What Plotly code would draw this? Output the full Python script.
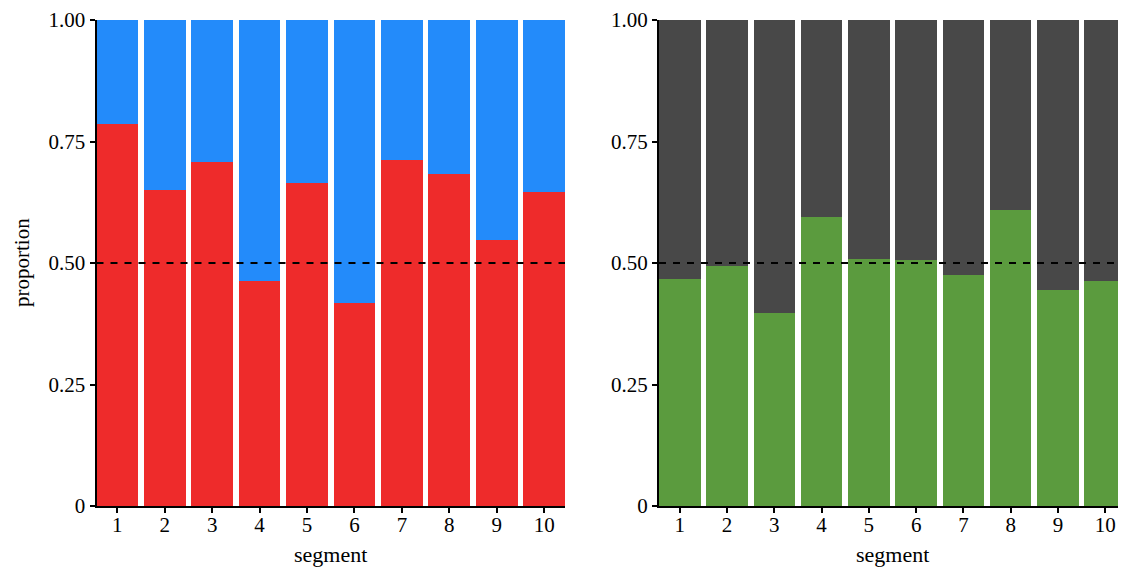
import plotly.graph_objects as go

segments = [1, 2, 3, 4, 5, 6, 7, 8, 9, 10]
left_red = [0.785, 0.650, 0.707, 0.463, 0.664, 0.417, 0.712, 0.684, 0.548, 0.647]
right_green = [0.468, 0.493, 0.398, 0.594, 0.508, 0.507, 0.476, 0.610, 0.444, 0.463]
ytick_vals = [0, 0.25, 0.5, 0.75, 1.0]
ytick_text = ["0", "0.25", "0.50", "0.75", "1.00"]

RED = "#EE2B2B"
BLUE = "#238BFA"
DARK = "#484848"
GREEN = "#5B9B3E"
FONT = "Liberation Serif"

fig = go.Figure()
fig.add_trace(go.Bar(x=segments, y=left_red, marker_color=RED, marker_line_width=0,
                     xaxis="x", yaxis="y", showlegend=False))
fig.add_trace(go.Bar(x=segments, y=[1 - v for v in left_red], marker_color=BLUE,
                     marker_line_width=0, xaxis="x", yaxis="y", showlegend=False))
fig.add_trace(go.Bar(x=segments, y=right_green, marker_color=GREEN, marker_line_width=0,
                     xaxis="x2", yaxis="y2", showlegend=False))
fig.add_trace(go.Bar(x=segments, y=[1 - v for v in right_green], marker_color=DARK,
                     marker_line_width=0, xaxis="x2", yaxis="y2", showlegend=False))

# page is rendered with an 8px body margin; figure sized to fill the rest
W, H = 1118, 561
PLOT_H = 489
common_x = dict(range=[0.56, 10.44], tickvals=segments, ticktext=[str(s) for s in segments],
                showline=True, linecolor="black", linewidth=2, ticks="outside",
                ticklen=5, tickwidth=1.5, tickcolor="black", showgrid=False,
                zeroline=False, ticklabelstandoff=-6, ticklabeloverflow="allow",
                tickfont=dict(family=FONT, size=21, color="black"))
common_y = dict(range=[0, 1], tickvals=ytick_vals, ticktext=ytick_text,
                showline=True, linecolor="black", linewidth=2, ticks="outside",
                ticklen=5, tickwidth=1.5, tickcolor="black", showgrid=False,
                zeroline=False, ticklabeloverflow="allow",
                tickfont=dict(family=FONT, size=21, color="black"))

fig.update_layout(
    width=W, height=H,
    margin=dict(l=0, r=0, t=9, b=H - 9 - PLOT_H),
    paper_bgcolor="white", plot_bgcolor="white",
    barmode="stack", bargap=0.12,
    xaxis=dict(domain=[88.5 / W, 557 / W], anchor="y", **common_x),
    yaxis=dict(domain=[0, 1], anchor="x", **common_y),
    xaxis2=dict(domain=[651 / W, 1.0], anchor="y2", **common_x),
    yaxis2=dict(domain=[0, 1], anchor="x2", **common_y),
    font=dict(family=FONT, size=21, color="black"),
    shapes=[
        dict(type="line", xref="x domain", yref="y", x0=0, x1=1, y0=0.5, y1=0.5,
             line=dict(color="black", width=2, dash="7px,7px"), layer="above"),
        dict(type="line", xref="x2 domain", yref="y2", x0=0, x1=1, y0=0.5, y1=0.5,
             line=dict(color="black", width=2, dash="7px,7px"), layer="above"),
    ],
    annotations=[
        dict(text="proportion", xref="paper", yref="paper", x=0, y=0.5,
             xanchor="left", yanchor="middle", textangle=-90, showarrow=False,
             font=dict(family=FONT, size=21, color="black")),
        dict(text="segment", xref="x domain", yref="paper", x=0.5, y=-49 / PLOT_H,
             xanchor="center", yanchor="middle", showarrow=False,
             font=dict(family=FONT, size=22, color="black")),
        dict(text="segment", xref="x2 domain", yref="paper", x=0.5, y=-49 / PLOT_H,
             xanchor="center", yanchor="middle", showarrow=False,
             font=dict(family=FONT, size=22, color="black")),
    ],
)

fig.write_html("out.html")
